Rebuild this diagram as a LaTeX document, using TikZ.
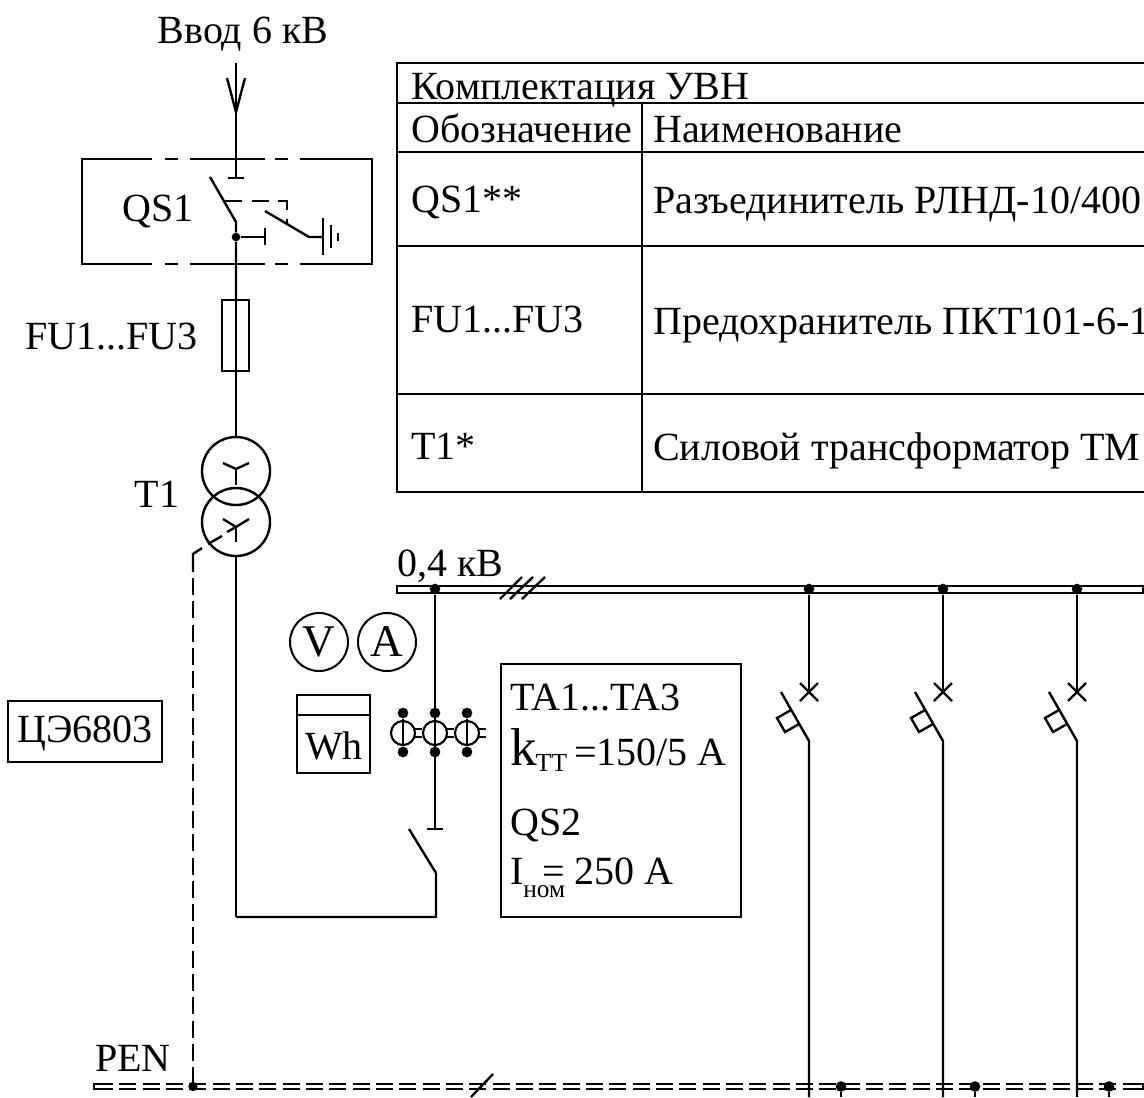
\documentclass[tikz,border=0pt]{standalone}
\usepackage{fontspec}
\setmainfont{Liberation Serif}
\newcommand{\fsz}{\fontsize{30pt}{34pt}\selectfont}
\newcommand{\fszs}{\fontsize{19pt}{21pt}\selectfont}
\tikzset{
  wire/.style={line width=1.8pt,line cap=butt,line join=miter},
  heavy wire/.style={line width=2.2pt},
  lbl/.style={inner sep=0pt,font=\fsz,text=black},
  llbl/.style={lbl,anchor=base west},
  dot/.style={circle,fill=black,draw=none,minimum size=8pt,inner sep=0pt},
  pt/.style={inner sep=0pt,minimum size=0pt},
  meter/.style={circle,draw,line width=1.5pt,minimum size=43.5pt,inner sep=0pt,font=\fontsize{34pt}{36pt}\selectfont},
  winding/.style={circle,draw,line width=1.8pt,minimum size=51pt,inner sep=0pt},
  ct/.style={circle,draw,line width=1.6pt,minimum size=18pt,inner sep=0pt},
  penbar/.style={wire,dash pattern=on 12.7pt off 4.8pt},
}
\begin{document}
\begin{tikzpicture}[x=0.75pt,y=-0.75pt]
\useasboundingbox (0,0) rectangle (1144,1097);
\clip (0,0) rectangle (1144,1097);
% ---------- table
\draw[wire] (397,63) rectangle (1146,492);
\draw[wire] (397,103) -- (1146,103);
\draw[wire] (397,152) -- (1146,152);
\draw[wire] (397,246) -- (1146,246);
\draw[wire] (397,394) -- (1146,394);
\draw[wire] (642,103) -- (642,492);
\node[llbl] (t0) at (411,99) {Комплектация УВН};
\node[llbl] (t1) at (411,142) {Обозначение};
\node[llbl] (t2) at (653,142) {Наименование};
\node[llbl] (t3) at (411,212) {QS1**};
\node[llbl] (t4) at (653,213) {Разъединитель РЛНД-10/400};
\node[llbl] (t5) at (411,332) {FU1...FU3};
\node[llbl] (t6) at (653,334) {Предохранитель ПКТ101-6-1};
\node[llbl] (t7) at (411,459) {T1*};
\node[llbl] (t8) at (653,460) {Силовой трансформатор ТМ};
% ---------- incoming line and QS1
\node[lbl,anchor=base] (vvod) at (243,43) {Ввод 6 кВ};
\coordinate (in) at (236,63);
\coordinate (intip) at (236,112);
\coordinate (inL) at (227,78);
\coordinate (inR) at (245,78);
\coordinate (qsT) at (236,178);
\draw[wire] (in) -- (qsT);
\draw[wire] (inL) -- (intip) -- (inR);
\draw[wire] (228,178) -- (244,178);
% box with broken top/bottom
\draw[wire] (152,159) -- (82,159) -- (82,264) -- (152,264);
\draw[wire] (190,159) -- (265,159);
\draw[wire] (190,264) -- (265,264);
\draw[wire] (300,159) -- (372,159) -- (372,264) -- (300,264);
\draw[wire] (165,159) -- (178,159) (275,159) -- (288,159);
\draw[wire] (165,264) -- (178,264) (275,264) -- (288,264);
\node[lbl] (qs1) at (158,211) {QS1};
\coordinate (bladeA) at (210,177);
\coordinate (bladeB) at (236,222);
\node[dot,minimum size=6.5pt] (qsdot) at (236,237) {};
\node[pt] (fuT) at (236,300) {};
\draw[wire] (bladeA) -- (bladeB) -- (qsdot) -- (fuT);
\coordinate (qsTee) at (265,237);
\draw[wire] (qsdot) -- (qsTee);
\draw[wire] (265,228) -- (265,245);
\draw[wire,line width=1.5pt,dash pattern=on 13pt off 7pt] (225,201) -- (287,201) -- (287,224);
\coordinate (eA) at (265,211);
\coordinate (eB) at (309,237);
\coordinate (eC) at (323,237);
\draw[wire] (eA) -- (eB) -- (eC);
\draw[wire] (323,218) -- (323,255);
\draw[wire] (331,225) -- (331,248);
\draw[wire] (338,233) -- (338,241);
% ---------- fuse
\node[lbl,anchor=base west] (fu) at (25,349) {FU1...FU3};
\draw[wire] (222,300) rectangle (249,371);
\node[winding] (w1) at (236,471) {};
\node[winding] (w2) at (236,522) {};
\draw[wire] (fuT) -- (w1.north);
% Y windings
\coordinate (y1) at (236,469);
\draw[wire] (223,463) -- (y1) -- (249,463);
\draw[wire] (y1) -- (236,485);
\coordinate (y2) at (236,527);
\draw[wire] (223,519) -- (y2) -- (249,519);
\draw[wire] (y2) -- (236,542);
\node[lbl] (t1lbl) at (157,494) {T1};
% ---------- neutral
\coordinate (nA) at (227,532);
\coordinate (nB) at (222,536);
\coordinate (nC) at (208,544);
\coordinate (nD) at (202,548);
\coordinate (ncorner) at (193,554);
\coordinate (nE) at (193,572);
\coordinate (nF) at (193,578);
\node[dot,minimum size=7pt] (pendot) at (193,1086.5) {};
\draw[wire] (y2) -- (nA);
\draw[wire] (nB) -- (nC);
\draw[wire] (nD) -- (ncorner) -- (nE);
\draw[wire,dash pattern=on 12.75pt off 4.72pt] (nF) -- (pendot);
% ---------- PEN bus
\node[lbl,anchor=base west] (pen) at (95,1071) {PEN};
\coordinate (pL1) at (96,1084);
\coordinate (pL2) at (96,1089);
\draw[penbar] (pL1) -- (1150,1084);
\draw[penbar] (pL2) -- (1150,1089);
\draw[wire] (100,1084) -- (94,1084) -- (94,1089) -- (100,1089);
\draw[wire] (1123,1084) -- (1143,1084) -- (1143,1089) -- (1123,1089);
\draw[wire] (471,1097) -- (493,1074);
% ---------- 0,4 kV bus
\node[llbl] (bus) at (397,576.5) {0,4 кВ};
\draw[line width=1.5pt] (396.5,586) rectangle (1143,592.5);
\draw[wire] (500,599) -- (522,577) (510,599) -- (533,577) (522,599) -- (545,577);
\node[dot] (d0) at (435,589) {};
\node[dot] (d1) at (809,589) {};
\node[dot] (d2) at (943,589) {};
\node[dot] (d3) at (1077,589) {};
% ---------- main feeder
\coordinate (qs2T) at (435,829);
\draw[wire] (d0) -- (qs2T);
\draw[wire] (427,829) -- (443,829);
\coordinate (qs2A) at (409,829);
\coordinate (qs2B) at (436,873);
\coordinate (corner1) at (436,917);
\coordinate (corner2) at (236,917);
\draw[heavy wire] (w2.south) -- (corner2);
\draw[wire] (corner2) -- (corner1) -- (qs2B) -- (qs2A);
% ---------- meters
\node[meter] (v) at (319,642) {V};
\node[meter] (a) at (387,642) {A};
\draw[line width=1.5pt] (297,695) rectangle (370,773);
\draw[line width=1.5pt] (297,715) -- (370,715);
\node[lbl] (wh) at (334,746) {Wh};
\node[lbl] (ec) at (85,733) {ЦЭ6803};
\draw[line width=1.5pt] (8,701) rectangle (162,762);
% ---------- current transformers
\foreach \n/\x in {a/403,b/435,c/467}{
  \node[ct] (ct\n) at (\x,733) {};
  \node[dot] (ct\n t) at (\x,713) {};
  \node[dot] (ct\n b) at (\x,752) {};
  \draw[wire] (ct\n t) -- (ct\n b);
  \draw[wire,line width=1.5pt] (\x+12,729) -- (\x+19,729) (\x+12,736.5) -- (\x+19,736.5);
}
% ---------- info box
\draw[line width=1.5pt] (501,664) rectangle (741,917);
\node[llbl] (ta) at (510,710) {TA1...TA3};
\node[llbl] (k) at (510,765) {\fontsize{40pt}{42pt}\selectfont k\kern-1pt\raisebox{-5pt}{\fontsize{19.5pt}{21pt}\selectfont ТТ}\kern5pt\fsz =150/5 A};
\node[llbl] (qs2) at (510,835) {QS2};
\node[llbl] (inom) at (510,884) {I\kern14pt= 250 A};
\node[llbl,font=\fszs] (nom) at (523,897) {ном};
% ---------- outgoing feeders
\foreach \i/\x in {1/809,2/943,3/1077}{
  \coordinate (x\i) at (\x,692);
  \draw[wire] (d\i) -- (x\i);
  \draw[wire] (\x-9,683) -- (\x+9,701) (\x-9,701) -- (\x+9,683);
  \coordinate (b\i) at (\x,741);
  \coordinate (c\i) at (\x,1097);
  \draw[wire] (\x-28,692) -- (b\i) -- (c\i);
  \draw[wire] (\x-18,710) -- (\x-32,718) -- (\x-24,732) -- (\x-10,724);
}
% ---------- PEN taps
\foreach \i/\x in {1/841,2/975,3/1109}{
  \node[dot] (p\i) at (\x,1086.5) {};
  \coordinate (pb\i) at (\x,1097);
  \draw[wire] (p\i) -- (pb\i);
}
\end{tikzpicture}
\end{document}
